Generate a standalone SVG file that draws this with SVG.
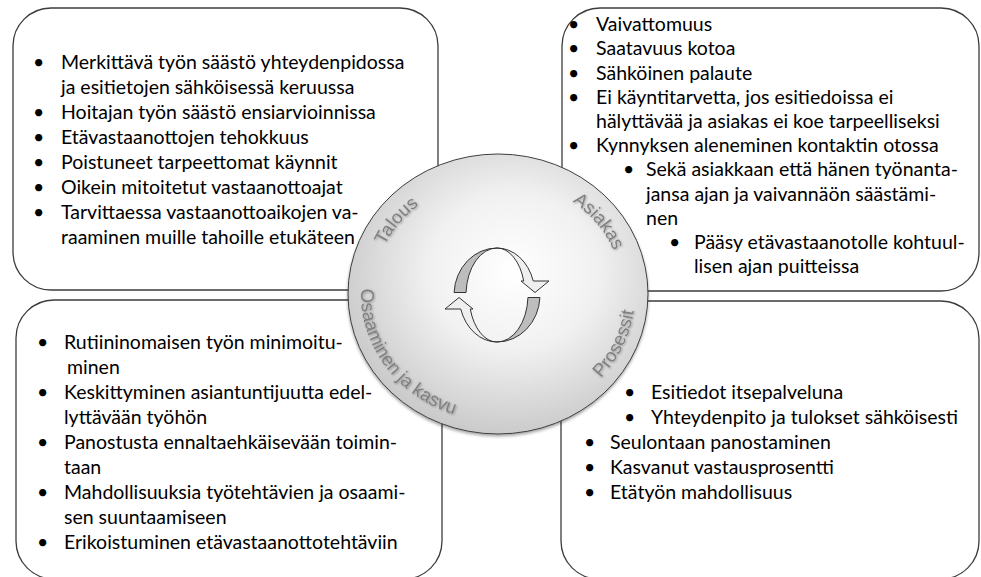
<svg xmlns="http://www.w3.org/2000/svg" width="981" height="577" viewBox="0 0 981 577">
  <style>
    .box { fill: #ffffff; stroke: #3c3c3c; stroke-width: 1.3; }
    .t { font-family: Lato, "Liberation Sans", sans-serif; font-size: 19.5px; fill: #000000; }
    .lbl { font-family: "Liberation Sans", Arial, sans-serif; font-size: 18.5px; fill: #808080; }
    .dark { fill: #bdbdbd; stroke: #333333; stroke-width: 1; }
    .light { fill: #efefef; stroke: #333333; stroke-width: 1; }
  </style>
  <defs>
    <radialGradient id="hub" cx="0.55" cy="0.42" r="0.62">
      <stop offset="0" stop-color="#ffffff"/>
      <stop offset="0.45" stop-color="#f1f1f1"/>
      <stop offset="1" stop-color="#c6c6c6"/>
    </radialGradient>
    <filter id="hubShadow" x="-10%" y="-10%" width="120%" height="125%">
      <feDropShadow dx="0" dy="2" stdDeviation="1.5" flood-color="#000000" flood-opacity="0.35"/>
    </filter>
    <filter id="lblShadow" x="-20%" y="-20%" width="140%" height="140%">
      <feDropShadow dx="0.8" dy="0.8" stdDeviation="0.8" flood-color="#000000" flood-opacity="0.35"/>
    </filter>
    <path id="pTalous" d="M373.2,300.0 A125,115 0 0 1 469.9,181.9"/>
    <path id="pAsiakas" d="M526.1,181.9 A125,115 0 0 1 622.8,300.0"/>
    <path id="pProsessit" d="M558.1,408.1 A137,127 0 0 0 629.7,259.0"/>
    <path id="pOsaaminen" d="M366.3,259.0 A137,127 0 0 0 483.7,420.3"/>
  </defs>

  <g id="box-talous">
    <rect class="box" x="13" y="8" width="425" height="282" rx="38" ry="38"/>
    <text class="t" x="33" y="69">•</text>
    <text class="t" x="61" y="69">Merkittävä työn säästö yhteydenpidossa</text>
    <text class="t" x="61" y="94">ja esitietojen sähköisessä keruussa</text>
    <text class="t" x="33" y="119">•</text>
    <text class="t" x="61" y="119">Hoitajan työn säästö ensiarvioinnissa</text>
    <text class="t" x="33" y="144">•</text>
    <text class="t" x="61" y="144">Etävastaanottojen tehokkuus</text>
    <text class="t" x="33" y="169">•</text>
    <text class="t" x="61" y="169">Poistuneet tarpeettomat käynnit</text>
    <text class="t" x="33" y="194">•</text>
    <text class="t" x="61" y="194">Oikein mitoitetut vastaanottoajat</text>
    <text class="t" x="33" y="219">•</text>
    <text class="t" x="61" y="219">Tarvittaessa vastaanottoaikojen va-</text>
    <text class="t" x="61" y="244">raaminen muille tahoille etukäteen</text>
  </g>

  <g id="box-asiakas">
    <rect class="box" x="562" y="8" width="417" height="283" rx="38" ry="38"/>
    <text class="t" x="568" y="31">•</text>
    <text class="t" x="596" y="31">Vaivattomuus</text>
    <text class="t" x="568" y="55">•</text>
    <text class="t" x="596" y="55">Saatavuus kotoa</text>
    <text class="t" x="568" y="79.5">•</text>
    <text class="t" x="596" y="79.5">Sähköinen palaute</text>
    <text class="t" x="568" y="103.5">•</text>
    <text class="t" x="596" y="103.5">Ei käyntitarvetta, jos esitiedoissa ei</text>
    <text class="t" x="596" y="128">hälyttävää ja asiakas ei koe tarpeelliseksi</text>
    <text class="t" x="568" y="152">•</text>
    <text class="t" x="596" y="152">Kynnyksen aleneminen kontaktin otossa</text>
    <text class="t" x="623" y="176">•</text>
    <text class="t" x="646" y="176">Sekä asiakkaan että hänen työnanta-</text>
    <text class="t" x="646" y="200.5">jansa ajan ja vaivannäön säästämi-</text>
    <text class="t" x="646" y="224.5">nen</text>
    <text class="t" x="669" y="249">•</text>
    <text class="t" x="694" y="249">Pääsy etävastaanotolle kohtuul-</text>
    <text class="t" x="694" y="273">lisen ajan puitteissa</text>
  </g>

  <g id="box-osaaminen">
    <rect class="box" x="16" y="300" width="426" height="279" rx="38" ry="38"/>
    <text class="t" x="37" y="349">•</text>
    <text class="t" x="64" y="349">Rutiininomaisen työn minimoitu-</text>
    <text class="t" x="67" y="374">minen</text>
    <text class="t" x="37" y="399">•</text>
    <text class="t" x="64" y="399">Keskittyminen asiantuntijuutta edel-</text>
    <text class="t" x="64" y="424">lyttävään työhön</text>
    <text class="t" x="37" y="449">•</text>
    <text class="t" x="64" y="449">Panostusta ennaltaehkäisevään toimin-</text>
    <text class="t" x="64" y="474">taan</text>
    <text class="t" x="37" y="499">•</text>
    <text class="t" x="64" y="499">Mahdollisuuksia työtehtävien ja osaami-</text>
    <text class="t" x="64" y="524">sen suuntaamiseen</text>
    <text class="t" x="37" y="549">•</text>
    <text class="t" x="64" y="549">Erikoistuminen etävastaanottotehtäviin</text>
  </g>

  <g id="box-prosessit">
    <rect class="box" x="561" y="301" width="418" height="278" rx="38" ry="38"/>
    <text class="t" x="624" y="399">•</text>
    <text class="t" x="651" y="399">Esitiedot itsepalveluna</text>
    <text class="t" x="624" y="424">•</text>
    <text class="t" x="651" y="424">Yhteydenpito ja tulokset sähköisesti</text>
    <text class="t" x="584" y="449">•</text>
    <text class="t" x="610" y="449">Seulontaan panostaminen</text>
    <text class="t" x="584" y="474">•</text>
    <text class="t" x="610" y="474">Kasvanut vastausprosentti</text>
    <text class="t" x="584" y="499">•</text>
    <text class="t" x="610" y="499">Etätyön mahdollisuus</text>
  </g>

  <g id="hub">
    <ellipse cx="498" cy="294" rx="150" ry="140" fill="url(#hub)" stroke="#404040" stroke-width="1" filter="url(#hubShadow)"/>
    <g filter="url(#lblShadow)">
      <text class="lbl"><textPath href="#pTalous" startOffset="50%" text-anchor="middle">Talous</textPath></text>
      <text class="lbl"><textPath href="#pAsiakas" startOffset="50%" text-anchor="middle">Asiakas</textPath></text>
      <text class="lbl"><textPath href="#pProsessit" startOffset="50%" text-anchor="middle">Prosessit</textPath></text>
      <text class="lbl"><textPath href="#pOsaaminen" startOffset="50%" text-anchor="middle">Osaaminen ja kasvu</textPath></text>
    </g>
  </g>

  <g id="cycle">
    <path class="dark" d="M454.06,292.5 A43,47 0 0 1 497,248 A31,47 0 0 0 466.04,292.5 Z"/>
    <path class="light" d="M497,248 A38,47 0 0 1 533.27,281 L549,281 L535,292.5 L521,281 L523.73,281 A28,47 0 0 0 497,248 Z"/>
    <path class="dark" d="M539.94,297.5 A43,47 0 0 1 497,342 A31,47 0 0 0 527.96,297.5 Z"/>
    <path class="light" d="M497,342 A38,47 0 0 1 460.73,309 L445,309 L459,297.5 L473,309 L470.27,309 A28,47 0 0 0 497,342 Z"/>
  </g>

  <g id="connectors"/>
</svg>
